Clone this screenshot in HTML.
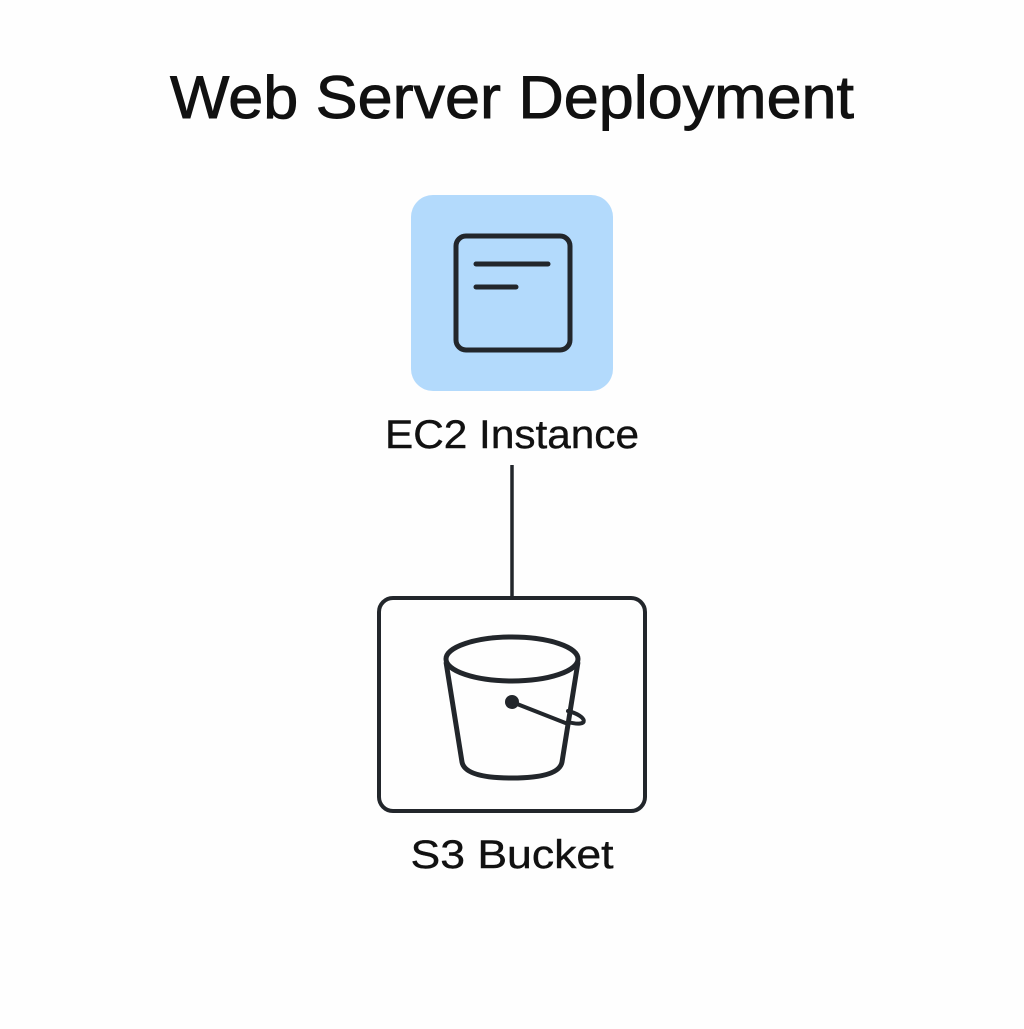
<!DOCTYPE html>
<html><head><style>
html,body{margin:0;padding:0;background:#fefefe;}
body{width:1024px;height:1024px;position:relative;overflow:hidden;font-family:"Liberation Sans",sans-serif;color:#111;}
</style></head><body>
<svg width="1024" height="1024" xmlns="http://www.w3.org/2000/svg">
<text x="512" y="118" text-anchor="middle" font-family="Liberation Sans, sans-serif" font-size="60" fill="#111" stroke="#111" stroke-width="0.9" textLength="684" lengthAdjust="spacingAndGlyphs">Web Server Deployment</text>
<rect x="411" y="195" width="202" height="196" rx="22" fill="#b3dafc"/>
<rect x="456" y="236" width="114" height="114" rx="10" fill="none" stroke="#22262b" stroke-width="5"/>
<line x1="476" y1="264" x2="548" y2="264" stroke="#22262b" stroke-width="5" stroke-linecap="round"/>
<line x1="476" y1="287" x2="516" y2="287" stroke="#22262b" stroke-width="5" stroke-linecap="round"/>
<text x="512" y="448" text-anchor="middle" font-family="Liberation Sans, sans-serif" font-size="40" fill="#111" stroke="#111" stroke-width="0.4" textLength="254" lengthAdjust="spacingAndGlyphs">EC2 Instance</text>
<line x1="512" y1="465" x2="512" y2="598" stroke="#22262b" stroke-width="3.5"/>
<rect x="379" y="598" width="266" height="213" rx="14" fill="none" stroke="#22262b" stroke-width="4"/>
<ellipse cx="512" cy="659" rx="66" ry="22" fill="none" stroke="#22262b" stroke-width="5"/>
<path d="M446,662 L462,762 Q465,778 512,778 Q559,778 562,762 L578,662" fill="none" stroke="#22262b" stroke-width="5" stroke-linejoin="round"/>
<circle cx="512" cy="702" r="7" fill="#22262b"/>
<path d="M512,702 L568,724 M568,711 C588,716 590,728 568,722" fill="none" stroke="#22262b" stroke-width="4" stroke-linecap="round"/>
<text x="512" y="868" text-anchor="middle" font-family="Liberation Sans, sans-serif" font-size="40" fill="#111" stroke="#111" stroke-width="0.4" textLength="203" lengthAdjust="spacingAndGlyphs">S3 Bucket</text>
</svg>
</body></html>
